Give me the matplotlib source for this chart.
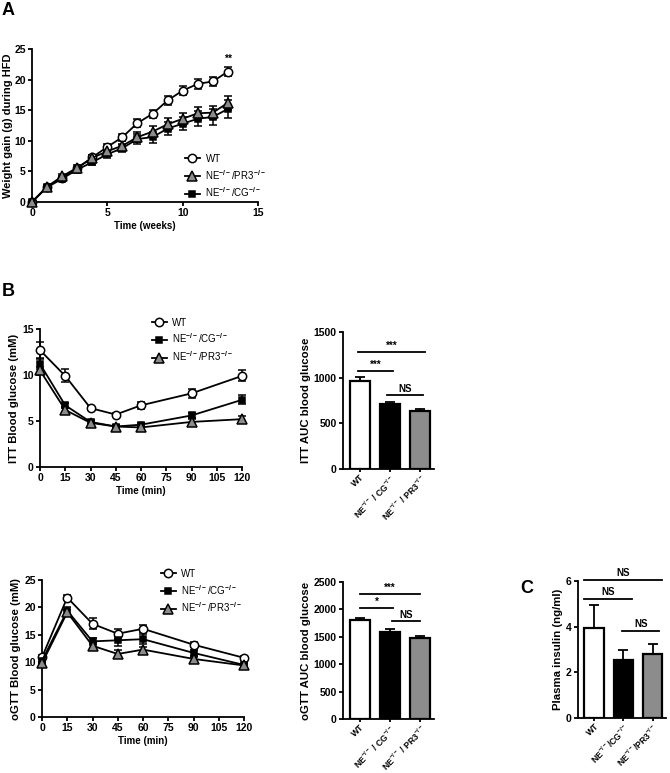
import matplotlib
matplotlib.use('Agg')
import matplotlib.pyplot as plt
from matplotlib.lines import Line2D

# ================= Data Section =================
weeks = list(range(14))
wt_gain = [0, 2.5, 4.0, 5.5, 7.3, 9.0, 10.6, 12.9, 14.4, 16.6, 18.2, 19.3, 19.7, 21.3]
wt_gain_err = [0, 0.2, 0.3, 0.3, 0.4, 0.4, 0.5, 0.6, 0.6, 0.7, 0.7, 0.8, 0.8, 0.7]
pr3_gain = [0, 2.5, 4.2, 5.6, 7.2, 8.3, 9.2, 10.6, 11.5, 12.7, 13.6, 14.5, 14.6, 16.2]
pr3_gain_err = [0, 0.2, 0.3, 0.4, 0.5, 0.6, 0.7, 0.8, 0.9, 1.0, 1.0, 1.1, 1.1, 1.2]
cg_gain = [0, 2.4, 3.8, 5.3, 6.5, 7.8, 8.8, 10.3, 10.6, 12.0, 12.8, 13.6, 13.9, 15.2]
cg_gain_err = [0, 0.2, 0.3, 0.4, 0.5, 0.6, 0.7, 0.8, 0.9, 1.0, 1.1, 1.2, 1.3, 1.4]

time_min = [0, 15, 30, 45, 60, 90, 120]
time_ticks = [0, 15, 30, 45, 60, 75, 90, 105, 120]
itt_wt = [12.7, 9.9, 6.4, 5.7, 6.7, 8.0, 9.9]
itt_wt_err = [0.9, 0.7, 0.2, 0.2, 0.4, 0.5, 0.6]
itt_cg = [11.2, 6.7, 4.9, 4.4, 4.6, 5.6, 7.3]
itt_cg_err = [0.5, 0.3, 0.2, 0.2, 0.2, 0.3, 0.5]
itt_pr3 = [10.5, 6.2, 4.8, 4.4, 4.3, 4.9, 5.2]
itt_pr3_err = [0.4, 0.3, 0.2, 0.2, 0.3, 0.3, 0.3]

ogtt_wt = [10.9, 21.8, 17.0, 15.2, 16.1, 13.2, 10.8]
ogtt_wt_err = [0.4, 0.4, 1.0, 0.9, 0.6, 0.4, 0.3]
ogtt_cg = [10.3, 19.4, 13.8, 14.0, 14.2, 11.7, 9.5]
ogtt_cg_err = [0.4, 0.6, 0.7, 1.1, 0.9, 0.5, 0.3]
ogtt_pr3 = [9.8, 19.1, 13.0, 11.5, 12.3, 10.6, 9.4]
ogtt_pr3_err = [0.3, 0.5, 0.5, 0.7, 0.5, 0.4, 0.3]

groups = ['WT', 'NE$^{-/-}$ / CG$^{-/-}$', 'NE$^{-/-}$ / PR3$^{-/-}$']
groups_c = ['WT', 'NE$^{-/-}$/CG$^{-/-}$', 'NE$^{-/-}$/PR3$^{-/-}$']
bar_colors = ['white', 'black', '#8c8c8c']
itt_auc = [960, 710, 635]
itt_auc_err = [45, 25, 25]
ogtt_auc = [1800, 1590, 1470]
ogtt_auc_err = [50, 55, 40]
insulin = [3.95, 2.55, 2.8]
insulin_err = [1.0, 0.42, 0.45]

# ================= Style Configuration =================
plt.rcParams.update({
    'font.family': ['Liberation Sans', 'DejaVu Sans'],
    'font.size': 7.5,
    'font.weight': 'bold',
    'axes.labelweight': 'bold',
    'axes.linewidth': 1.3,
    'xtick.major.width': 1.3,
    'ytick.major.width': 1.3,
    'xtick.major.size': 3,
    'ytick.major.size': 3,
    'xtick.labelsize': 7.5,
    'ytick.labelsize': 7.5,
    'mathtext.fontset': 'custom',
    'mathtext.rm': 'Liberation Sans',
    'mathtext.it': 'Liberation Sans',
    'mathtext.bf': 'Liberation Sans:bold',
})

W, H = 670, 773
fig = plt.figure(figsize=(6.7, 7.73), dpi=100)

STYLE = {
    'wt': dict(marker='o', mfc='white', ms=6),
    'cg': dict(marker='s', mfc='black', ms=5),
    'pr3': dict(marker='^', mfc='#8c8c8c', ms=7),
}
LABELS = {'wt': 'WT', 'cg': 'NE$^{-/-}$/CG$^{-/-}$', 'pr3': 'NE$^{-/-}$/PR3$^{-/-}$'}


def ax_at(x0, y0, x1, y1):
    return fig.add_axes([x0 / W, 1 - y1 / H, (x1 - x0) / W, (y1 - y0) / H])


def prism(ax):
    for s in ['top', 'right']:
        ax.spines[s].set_visible(False)
    ax.tick_params(direction='out', pad=1.5)


def line_series(ax, x, y, e, key):
    st = STYLE[key]
    ax.errorbar(x, y, yerr=e, color='black', marker=st['marker'], mfc=st['mfc'], mec='black',
                ms=st['ms'], mew=1.1, lw=1.3, capsize=3, elinewidth=1.1, capthick=1.1,
                clip_on=False, zorder=3)


def add_legend(ax, keys, anchor):
    handles = [Line2D([], [], color='black', lw=1.3, marker=STYLE[k]['marker'],
                      mfc=STYLE[k]['mfc'], mec='black', ms=STYLE[k]['ms'], mew=1.1)
               for k in keys]
    ax.legend(handles, [LABELS[k] for k in keys], loc='upper left', bbox_to_anchor=anchor,
              frameon=False, prop={'weight': 'normal', 'size': 7}, handlelength=1.5,
              labelspacing=0.4, handletextpad=0.6, borderaxespad=0)


def bar_panel(ax, vals, errs, labels, ylabel):
    xs = range(len(vals))
    ax.bar(xs, vals, width=0.66, color=bar_colors, edgecolor='black', linewidth=1.6, zorder=2)
    ax.errorbar(xs, vals, yerr=[[0] * len(errs), errs], fmt='none', ecolor='black',
                elinewidth=1.3, capsize=3.5, capthick=1.3, zorder=1)
    ax.set_xticks(list(xs))
    ax.set_xticklabels(labels, rotation=45, ha='right', rotation_mode='anchor', fontsize=6.2)
    ax.set_xlim(-0.55, 2.45)
    ax.set_ylabel(ylabel, fontsize=8.2, labelpad=2)
    prism(ax)
    ax.tick_params(axis='x', length=2.5, pad=0.3)


def sig(ax, x0, x1, y, text, dy):
    ax.plot([x0, x1], [y, y], color='black', lw=1.3, clip_on=False)
    ax.text((x0 + x1) / 2, y + dy, text, ha='center', va='bottom', fontsize=7, fontweight='bold')


# ================= Panel A =================
axA = ax_at(32, 49, 258, 202)
line_series(axA, weeks, wt_gain, wt_gain_err, 'wt')
line_series(axA, weeks, cg_gain, cg_gain_err, 'cg')
line_series(axA, weeks, pr3_gain, pr3_gain_err, 'pr3')
axA.set_xlim(0, 15)
axA.set_ylim(0, 25)
axA.set_xticks([0, 5, 10, 15])
axA.set_yticks([0, 5, 10, 15, 20, 25])
axA.set_xlabel('Time (weeks)', fontsize=7, labelpad=2)
axA.set_ylabel('Weight gain (g) during HFD', fontsize=8.0, labelpad=1)
axA.text(13, 22.5, '**', ha='center', va='bottom', fontsize=7.5, fontweight='bold')
prism(axA)
add_legend(axA, ['wt', 'pr3', 'cg'], (0.66, 0.34))

# ================= Panel B: ITT =================
axI = ax_at(40, 329, 242, 467)
line_series(axI, time_min, itt_wt, itt_wt_err, 'wt')
line_series(axI, time_min, itt_cg, itt_cg_err, 'cg')
line_series(axI, time_min, itt_pr3, itt_pr3_err, 'pr3')
axI.set_xlim(0, 120)
axI.set_ylim(0, 15)
axI.set_xticks(time_ticks)
axI.set_yticks([0, 5, 10, 15])
axI.set_xlabel('Time (min)', fontsize=7, labelpad=2)
axI.set_ylabel('ITT Blood glucose (mM)', fontsize=8.2, labelpad=2)
prism(axI)
add_legend(axI, ['wt', 'cg', 'pr3'], (0.535, 1.11))

axIb = ax_at(343, 332, 434, 469)
bar_panel(axIb, itt_auc, itt_auc_err, groups, 'ITT AUC blood glucose')
axIb.set_ylim(0, 1500)
axIb.set_yticks([0, 500, 1000, 1500])
sig(axIb, -0.05, 2.15, 1280, '***', 10)
sig(axIb, -0.05, 1.1, 1073, '***', 10)
sig(axIb, 0.9, 2.1, 810, 'NS', 15)

# ================= Panel B: oGTT =================
axO = ax_at(42, 580, 244, 717)
line_series(axO, time_min, ogtt_wt, ogtt_wt_err, 'wt')
line_series(axO, time_min, ogtt_cg, ogtt_cg_err, 'cg')
line_series(axO, time_min, ogtt_pr3, ogtt_pr3_err, 'pr3')
axO.set_xlim(0, 120)
axO.set_ylim(0, 25)
axO.set_xticks(time_ticks)
axO.set_yticks([0, 5, 10, 15, 20, 25])
axO.set_xlabel('Time (min)', fontsize=7, labelpad=2)
axO.set_ylabel('oGTT Blood glucose (mM)', fontsize=8.2, labelpad=2)
prism(axO)
add_legend(axO, ['wt', 'cg', 'pr3'], (0.57, 1.11))

axOb = ax_at(343, 582, 434, 719)
bar_panel(axOb, ogtt_auc, ogtt_auc_err, groups, 'oGTT AUC blood glucose')
axOb.set_ylim(0, 2500)
axOb.set_yticks([0, 500, 1000, 1500, 2000, 2500])
sig(axOb, 0, 2.0, 2281, '***', 15)
sig(axOb, 0, 1.1, 2025, '*', 15)
sig(axOb, 1.05, 2.0, 1788, 'NS', 25)

# ================= Panel C =================
axC = ax_at(578, 581, 666, 718)
bar_panel(axC, insulin, insulin_err, groups_c, 'Plasma insulin (ng/ml)')
axC.set_ylim(0, 6)
axC.set_yticks([0, 2, 4, 6])
sig(axC, -0.34, 2.32, 6.05, 'NS', 0.08)
sig(axC, -0.34, 1.3, 5.2, 'NS', 0.08)
sig(axC, 0.96, 2.22, 3.8, 'NS', 0.08)

# ================= Panel letters =================
fig.text(2 / W, 1 - 2 / H, 'A', ha='left', va='top', fontsize=13, fontweight='bold')
fig.text(2 / W, 1 - 283 / H, 'B', ha='left', va='top', fontsize=13, fontweight='bold')
fig.text(520 / W, 1 - 580 / H, 'C', ha='left', va='top', fontsize=13, fontweight='bold')

fig.savefig('out.png', dpi=100)
